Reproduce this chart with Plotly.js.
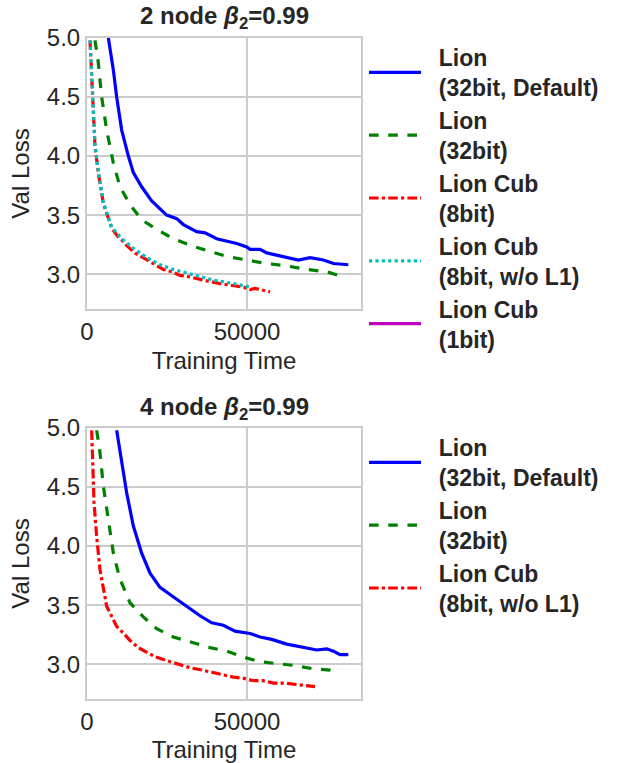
<!DOCTYPE html>
<html>
<head>
<meta charset="utf-8">
<script src="https://cdn.plot.ly/plotly-3.0.1.min.js"></script>
<style>html,body{margin:0;padding:0;background:#fff;}#chart{width:619px;height:763px;}</style>
</head>
<body>
<div id="chart"></div>
<script>
// ---- Data ----
const seriesNames = [["Lion", "(32bit, Default)"], ["Lion", "(32bit)"], ["Lion Cub", "(8bit)"], ["Lion Cub", "(8bit, w/o L1)"], ["Lion Cub", "(1bit)"]];
const subplotTitles = ["2 node <i>β</i><sub>2</sub>=0.99", "4 node <i>β</i><sub>2</sub>=0.99"];

// 2 node
const n2_lion_default_x = [6670, 8230, 9270, 10830, 12920, 14480, 17080, 20200, 24900, 28030, 30100, 34270, 36880, 40520, 46770, 49900, 50940, 54060, 56150, 61350, 66040, 69690, 73850, 77000, 81650];
const n2_lion_default_y = [5.0, 4.73, 4.50, 4.22, 4.00, 3.86, 3.74, 3.62, 3.50, 3.47, 3.42, 3.36, 3.35, 3.30, 3.26, 3.23, 3.21, 3.21, 3.18, 3.15, 3.12, 3.14, 3.12, 3.09, 3.08];
const n2_lion_x = [2500, 3540, 4580, 6150, 8230, 10310, 13440, 17080, 21780, 26980, 32700, 37400, 43650, 49900, 56150, 62400, 68650, 74900, 78540];
const n2_lion_y = [4.98, 4.79, 4.50, 4.22, 3.94, 3.74, 3.59, 3.46, 3.38, 3.30, 3.24, 3.20, 3.15, 3.12, 3.09, 3.07, 3.04, 3.02, 2.99];
const n2_cub8_x = [940, 1460, 1980, 2500, 3540, 5100, 7710, 9300, 10830, 12500, 15000, 16800, 18650, 21000, 23850, 26500, 29060, 31500, 34270, 38000, 41560, 44000, 46770, 49000, 50940, 52500, 54060, 57190];
const n2_cub8_y = [4.98, 4.64, 4.36, 4.08, 3.86, 3.60, 3.39, 3.33, 3.29, 3.24, 3.18, 3.15, 3.12, 3.08, 3.04, 3.02, 2.99, 2.98, 2.96, 2.94, 2.92, 2.91, 2.90, 2.89, 2.87, 2.88, 2.87, 2.85];
const n2_cub8nol1_x = [940, 1460, 1980, 2500, 3540, 5100, 7710, 10830, 14480, 18650, 22810, 27000, 31150, 35300, 39480, 45730, 50940];
const n2_cub8nol1_y = [4.98, 4.70, 4.40, 4.10, 3.87, 3.61, 3.40, 3.30, 3.22, 3.14, 3.08, 3.04, 3.01, 2.98, 2.95, 2.92, 2.89];
const n2_cub1_x = [null];
const n2_cub1_y = [null];

// 4 node
const n4_lion_default_x = [9270, 10830, 12400, 14480, 17080, 19690, 22810, 28020, 32190, 35310, 38960, 42600, 46250, 50940, 54060, 57700, 62400, 66560, 71770, 74900, 76980, 79060, 81650];
const n4_lion_default_y = [4.98, 4.73, 4.45, 4.17, 3.94, 3.77, 3.65, 3.55, 3.47, 3.41, 3.35, 3.33, 3.28, 3.26, 3.23, 3.21, 3.17, 3.15, 3.12, 3.13, 3.11, 3.08, 3.08];
const n4_lion_x = [3020, 4060, 5100, 6670, 8230, 10310, 13440, 17600, 21780, 26980, 32190, 38440, 43650, 48860, 54060, 60310, 64480, 70730, 75940, 78540];
const n4_lion_y = [4.98, 4.79, 4.51, 4.22, 3.94, 3.72, 3.52, 3.40, 3.30, 3.23, 3.19, 3.14, 3.11, 3.06, 3.02, 3.00, 2.99, 2.96, 2.95, 2.93];
const n4_cub8nol1_x = [1460, 1770, 2190, 3020, 4060, 6150, 9270, 11500, 13440, 16000, 18650, 21500, 24900, 28500, 32190, 36000, 39480, 42500, 45730, 49000, 51980, 55000, 58230, 61500, 64480, 68000, 71250];
const n4_cub8nol1_y = [4.98, 4.65, 4.37, 4.08, 3.80, 3.49, 3.32, 3.26, 3.20, 3.14, 3.10, 3.06, 3.03, 3.00, 2.97, 2.95, 2.93, 2.91, 2.89, 2.88, 2.86, 2.86, 2.84, 2.84, 2.83, 2.82, 2.81];

const xTicks = [0, 50000];
const yTicks = [3.0, 3.5, 4.0, 4.5, 5.0];

// ---- Styles ----
const FONT = "Liberation Sans, Arial, sans-serif";
const TXT = "#262626";
const GRID = "#cccccc";
const FS = 24;
const LFS = 23;
const PAD = "\u00a0\u00a0";
const styles = [
  {color: "#0000ff", dash: "solid"},
  {color: "#008000", dash: "dash"},
  {color: "#ff0000", dash: "dashdot"},
  {color: "#00bfbf", dash: "dot"},
  {color: "#bf00bf", dash: "solid"}
];

function label(i) { return seriesNames[i].map(s => PAD + s).join("<br>"); }

function tr(x, y, si, ni, xa, ya, leg) {
  return {
    type: "scatter", mode: "lines", x: x, y: y, name: label(ni),
    xaxis: xa, yaxis: ya, legend: leg, showlegend: true,
    line: {color: styles[si].color, dash: styles[si].dash, width: 3.2}
  };
}

const data = [
  tr(n2_lion_default_x, n2_lion_default_y, 0, 0, "x", "y", "legend"),
  tr(n2_lion_x, n2_lion_y, 1, 1, "x", "y", "legend"),
  tr(n2_cub8_x, n2_cub8_y, 2, 2, "x", "y", "legend"),
  tr(n2_cub8nol1_x, n2_cub8nol1_y, 3, 3, "x", "y", "legend"),
  tr(n2_cub1_x, n2_cub1_y, 4, 4, "x", "y", "legend"),
  tr(n4_lion_default_x, n4_lion_default_y, 0, 0, "x2", "y2", "legend2"),
  tr(n4_lion_x, n4_lion_y, 1, 1, "x2", "y2", "legend2"),
  tr(n4_cub8nol1_x, n4_cub8nol1_y, 2, 3, "x2", "y2", "legend2")
];

function xax(domain, anchor) {
  return {
    domain: domain, anchor: anchor, range: [0, 85600],
    tickvals: xTicks, tickformat: "d",
    showgrid: true, gridcolor: GRID, gridwidth: 1.5,
    showline: true, mirror: true, linecolor: GRID, linewidth: 2,
    zeroline: false, ticks: "",
    tickfont: {family: FONT, size: FS, color: TXT},
    title: {text: "Training Time", font: {family: FONT, size: FS, color: TXT}, standoff: 8}
  };
}
function yax(domain, anchor) {
  return {
    domain: domain, anchor: anchor, range: [2.705, 5.0],
    tickvals: yTicks, tickformat: ".1f",
    showgrid: true, gridcolor: GRID, gridwidth: 1.5,
    showline: true, mirror: true, linecolor: GRID, linewidth: 2,
    zeroline: false, ticks: "",
    tickfont: {family: FONT, size: FS, color: TXT},
    title: {text: "Val Loss", font: {family: FONT, size: FS, color: TXT}, standoff: 10}
  };
}
function leg(ytop) {
  return {
    x: 364/619, xanchor: "left", y: ytop, yanchor: "top",
    bgcolor: "rgba(0,0,0,0)", borderwidth: 0,
    font: {family: FONT, size: LFS, color: TXT, weight: "bold"},
    tracegroupgap: 0, itemwidth: 52
  };
}

const xd = [87/619, 361/619];
const layout = {
  width: 619, height: 763,
  margin: {l: 0, r: 0, t: 0, b: 0},
  paper_bgcolor: "#ffffff", plot_bgcolor: "#ffffff",
  font: {family: FONT, color: TXT},
  showlegend: true,
  xaxis: xax(xd, "y"),
  yaxis: yax([(763-309)/763, (763-38)/763], "x"),
  xaxis2: xax(xd, "y2"),
  yaxis2: yax([(763-699)/763, (763-428)/763], "x2"),
  legend: leg(1 - 36/763),
  legend2: leg(1 - 426/763),
  annotations: [
    {text: "<b>" + subplotTitles[0] + "</b>", xref: "paper", yref: "paper", x: 224/619, y: 1 - 18/763, xanchor: "center", yanchor: "middle", showarrow: false, font: {family: FONT, size: FS, color: TXT}},
    {text: "<b>" + subplotTitles[1] + "</b>", xref: "paper", yref: "paper", x: 224/619, y: 1 - 408/763, xanchor: "center", yanchor: "middle", showarrow: false, font: {family: FONT, size: FS, color: TXT}}
  ]
};

Plotly.newPlot("chart", data, layout, {staticPlot: true, displayModeBar: false});
</script>
</body>
</html>
